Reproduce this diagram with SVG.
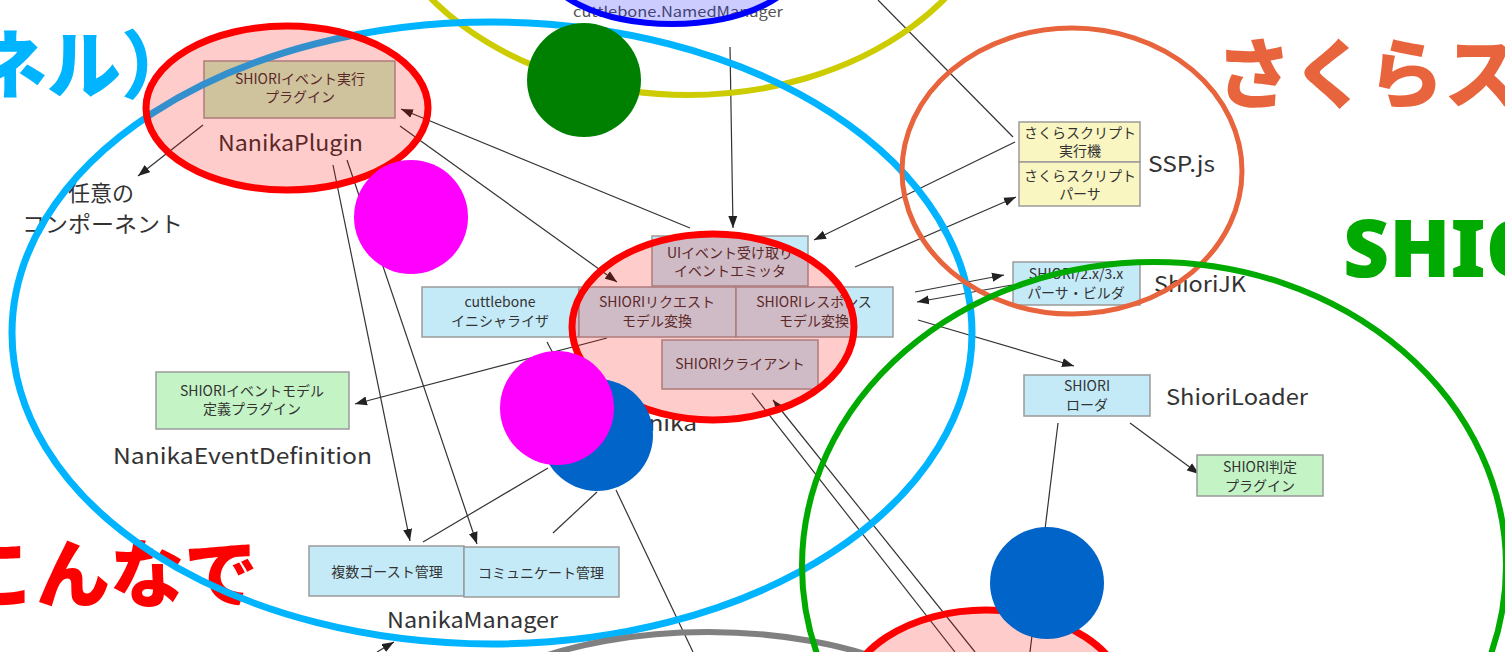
<svg xmlns="http://www.w3.org/2000/svg" width="1505" height="652" viewBox="0 0 1505 652">
<defs>
<marker id="ah" viewBox="0 0 12 10" refX="12" refY="5" markerWidth="12" markerHeight="10" markerUnits="userSpaceOnUse" orient="auto">
<path d="M0,0.5 L12,5 L0,9.5 z" fill="#222"/>
</marker>
<style>
.box{stroke:#9a9a9a;stroke-width:1.5}
.b{fill:#c4eaf8}
.g{fill:#c4f4c6}
.y{fill:#faf6c2}
.t{font-family:"Noto Sans CJK JP",sans-serif;font-size:14px;fill:#333;text-anchor:middle}
.l{font-family:"Noto Sans CJK JP",sans-serif;font-size:22px;fill:#333}
.c{stroke:#333;stroke-width:1.2;fill:none}
.a{marker-end:url(#ah)}
.big{font-family:"Noto Sans CJK JP",sans-serif;font-weight:900}
.ring{fill:none}
.red{fill:rgba(255,0,0,0.2);stroke:#ff0000;stroke-width:7}
</style>
</defs>
<rect width="1505" height="652" fill="#ffffff"/>

<text class="big" x="-38" y="601" font-size="74" fill="#ff0000">こんなで</text>

<g id="connectors">
<line class="c a" x1="203" y1="125" x2="138" y2="176"/>
<line class="c a" x1="690" y1="228" x2="401" y2="109"/>
<line class="c a" x1="400" y1="126" x2="617" y2="282"/>
<line class="c a" x1="333" y1="165" x2="410" y2="541"/>
<line class="c a" x1="347" y1="160" x2="477" y2="544"/>
<line class="c a" x1="730" y1="47" x2="733" y2="228"/>
<line class="c" x1="878" y1="0" x2="1013" y2="137"/>
<line class="c a" x1="1015" y1="142" x2="814" y2="240"/>
<line class="c a" x1="855" y1="267" x2="1016" y2="197"/>
<line class="c a" x1="915" y1="292" x2="1004" y2="275"/>
<line class="c a" x1="1012" y1="285" x2="917" y2="302"/>
<line class="c a" x1="918" y1="320" x2="1074" y2="366"/>
<line class="c" x1="1058" y1="423" x2="1030" y2="652"/>
<line class="c a" x1="1130" y1="423" x2="1199" y2="474"/>
<line class="c a" x1="607" y1="338" x2="355" y2="404"/>
<line class="c" x1="547" y1="342" x2="578" y2="400"/>
<line class="c" x1="423" y1="542" x2="548" y2="468"/>
<line class="c" x1="553" y1="533" x2="597" y2="492"/>
<line class="c" x1="616" y1="490" x2="693" y2="652"/>
<line class="c" x1="752" y1="393" x2="955" y2="652"/>
<line class="c a" x1="975" y1="652" x2="773" y2="400"/>
<line class="c a" x1="377" y1="652" x2="394" y2="642"/>
</g>

<g id="NanikaPlugin">
<rect class="box g" x="204" y="61" width="191" height="57"/>
<text class="t" x="300" y="84">SHIORIイベント実行</text>
<text class="t" x="300" y="102">プラグイン</text>
<text class="l" x="218" y="151" textLength="145" lengthAdjust="spacingAndGlyphs">NanikaPlugin</text>
</g>

<g id="AnyComponent">
<text class="l" x="68" y="201">任意の</text>
<text class="l" x="22" y="232" textLength="161" lengthAdjust="spacingAndGlyphs">コンポーネント</text>
</g>

<g id="Nanika">
<rect class="box b" x="652" y="236" width="156" height="50"/>
<text class="t" x="730" y="258">UIイベント受け取り</text>
<text class="t" x="730" y="276">イベントエミッタ</text>
<rect class="box b" x="422" y="287" width="157" height="50"/>
<text class="t" x="500" y="307">cuttlebone</text>
<text class="t" x="500" y="326">イニシャライザ</text>
<rect class="box b" x="579" y="287" width="157" height="50"/>
<text class="t" x="657" y="307">SHIORIリクエスト</text>
<text class="t" x="657" y="326">モデル変換</text>
<rect class="box b" x="736" y="287" width="157" height="50"/>
<text class="t" x="814" y="307">SHIORIレスポンス</text>
<text class="t" x="814" y="326">モデル変換</text>
<rect class="box b" x="662" y="340" width="156" height="49"/>
<text class="t" x="740" y="369">SHIORIクライアント</text>
<text class="l" x="617" y="431" textLength="80" lengthAdjust="spacingAndGlyphs">Nanika</text>
</g>

<g id="NamedManager">
<text x="678" y="17" font-family="Noto Sans CJK JP, sans-serif" font-size="14" fill="#555" text-anchor="middle" textLength="210" lengthAdjust="spacingAndGlyphs">cuttlebone.NamedManager</text>
</g>

<g id="SSPjs">
<rect class="box y" x="1019" y="122" width="121" height="40"/>
<text class="t" x="1080" y="138">さくらスクリプト</text>
<text class="t" x="1080" y="156">実行機</text>
<rect class="box y" x="1019" y="162" width="121" height="44"/>
<text class="t" x="1080" y="181">さくらスクリプト</text>
<text class="t" x="1080" y="199">パーサ</text>
<text class="l" x="1148" y="172" textLength="67" lengthAdjust="spacingAndGlyphs">SSP.js</text>
</g>

<g id="ShioriJK">
<rect class="box b" x="1013" y="262" width="127" height="43"/>
<text class="t" x="1076" y="279">SHIORI/2.x/3.x</text>
<text class="t" x="1076" y="298">パーサ・ビルダ</text>
<text class="l" x="1154" y="292" textLength="92" lengthAdjust="spacingAndGlyphs">ShioriJK</text>
</g>

<g id="ShioriLoader">
<rect class="box b" x="1024" y="375" width="126" height="41"/>
<text class="t" x="1087" y="391">SHIORI</text>
<text class="t" x="1087" y="410">ローダ</text>
<text class="l" x="1166" y="405" textLength="142" lengthAdjust="spacingAndGlyphs">ShioriLoader</text>
</g>

<g id="ShioriJudge">
<rect class="box g" x="1197" y="455" width="126" height="41"/>
<text class="t" x="1260" y="472">SHIORI判定</text>
<text class="t" x="1260" y="491">プラグイン</text>
</g>

<g id="NanikaEventDefinition">
<rect class="box g" x="156" y="372" width="193" height="57"/>
<text class="t" x="252" y="396">SHIORIイベントモデル</text>
<text class="t" x="252" y="414">定義プラグイン</text>
<text class="l" x="113" y="464" textLength="259" lengthAdjust="spacingAndGlyphs">NanikaEventDefinition</text>
</g>

<g id="NanikaManager">
<rect class="box b" x="309" y="546" width="155" height="50"/>
<text class="t" x="387" y="577">複数ゴースト管理</text>
<rect class="box b" x="464" y="547" width="155" height="50"/>
<text class="t" x="541" y="578">コミュニケート管理</text>
<text class="l" x="387" y="628" textLength="171" lengthAdjust="spacingAndGlyphs">NanikaManager</text>
</g>

<g id="annotations">
<ellipse class="ring" cx="688" cy="-140" rx="318" ry="235" stroke="#cccc00" stroke-width="6"/>
<ellipse class="ring" cx="492" cy="333" rx="480" ry="311" stroke="#00b4ff" stroke-width="7"/>
<ellipse class="ring" cx="1072" cy="171" rx="170" ry="143" stroke="#e8643c" stroke-width="5"/>
<ellipse class="ring" cx="708" cy="760" rx="280" ry="128" stroke="#808080" stroke-width="6"/>
<ellipse class="ring" cx="1154" cy="566" rx="352" ry="304" stroke="#00aa00" stroke-width="6"/>
<ellipse cx="672" cy="-40" rx="130" ry="64" fill="rgba(0,0,255,0.2)" stroke="#0000ff" stroke-width="6"/>
<ellipse class="red" cx="287" cy="108" rx="141" ry="82"/>
<ellipse class="red" cx="713" cy="327" rx="141" ry="93"/>
<ellipse class="red" cx="986" cy="703" rx="141" ry="93"/>
<circle cx="584" cy="80" r="57" fill="#008000"/>
<circle cx="411" cy="217" r="57" fill="#ff00ff"/>
<circle cx="597" cy="435" r="56" fill="#0064c8"/>
<circle cx="557" cy="408" r="57" fill="#ff00ff"/>
<ellipse cx="1047" cy="583" rx="57" ry="56" fill="#0064c8"/>
</g>

<text class="big" x="-27" y="92" font-size="74" fill="#00b4ff">ネル）</text>
<text class="big" x="1216" y="102" font-size="76" fill="#e8643c">さくらス</text>
<text x="1343" y="277" font-family="Noto Sans, sans-serif" font-weight="900" font-size="80" fill="#00aa00">SHIO</text>
</svg>
